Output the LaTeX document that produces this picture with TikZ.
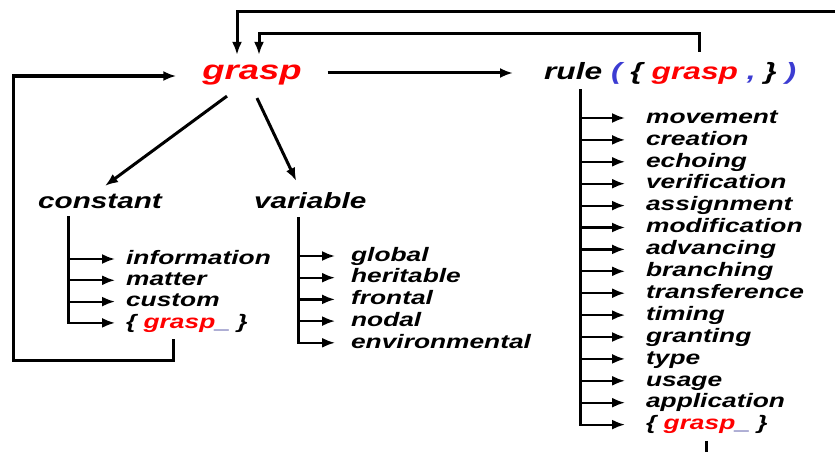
\documentclass[tikz,border=0pt]{standalone}
\usepackage{fontspec}
\newfontfamily\gfont{Liberation Sans}[FakeStretch=1.35]
\usetikzlibrary{arrows.meta}

\definecolor{gred}{RGB}{255,0,0}
\definecolor{gblue}{RGB}{60,60,210}
\definecolor{gnavy}{RGB}{40,40,140}

\newcommand{\gsub}{\{ \textcolor{gred}{grasp}\textcolor{gnavy}{\_} \}}

\begin{document}
\begin{tikzpicture}[x=1pt,y=-1pt,line width=2.2pt,
    arr/.style={-{Latex[length=13pt,width=10pt]}},
    item/.style={font=\gfont\bfseries\itshape\fontsize{19.5}{20}\selectfont,anchor=west,inner sep=0pt,text height=10.5pt,text depth=0pt},
    head/.style={font=\gfont\bfseries\itshape\fontsize{22}{24}\selectfont,anchor=base west,inner xsep=0pt,inner ysep=6pt,text height=15pt,text depth=0pt},
    trunk/.style={line width=3pt,line cap=rect},
    loopline/.style={line width=3pt}]

  \useasboundingbox (0,0) rectangle (835,452);

  \node[head,font=\gfont\bfseries\itshape\fontsize{27}{30}\selectfont,text=gred,anchor=base,
        inner xsep=25pt,inner ysep=10pt,text height=14pt] (g) at (252,80) {grasp};
  \node[head,font=\gfont\bfseries\itshape\fontsize{23.5}{26}\selectfont,
        inner xsep=30pt,inner ysep=15pt,text height=12pt] (rul) at (513,80)
        {rule \textcolor{gblue}{(} \{ \textcolor{gred}{grasp} \textcolor{gblue}{,} \} \textcolor{gblue}{)}};
  \node[head] (cst) at (37,208) {constant};
  \node[head] (var) at (253,208) {variable};

  \coordinate (outR) at (835,12);
  \coordinate (outB) at (703,452);
  \coordinate (lc) at (13,360);

  % main arrows
  \draw[loopline,arr] (g.east) -- (g.east -| rul.west);
  \draw[loopline,arr] ([xshift=-25pt,yshift=-5pt]g.south) -- ([xshift=5pt]cst.north);
  \draw[loopline,arr] ([xshift=5pt,yshift=-7pt]g.south) -- ([xshift=-14pt,yshift=5pt]var.north);

  % constant
  \coordinate (ctop) at (68,217);
  \foreach \t [count=\i] in {information,matter,custom,\gsub}
    \node[item] (c\i) at (125,{259+21.3*(\i-1)}) {\t};
  \foreach \i in {1,...,4}
    \draw[arr] (c\i.west -| ctop) -- ([xshift=-10pt]c\i.west);
  \draw[trunk] (ctop) -- (ctop |- c4.west);

  % variable
  \coordinate (vtop) at (298,218);
  \foreach \t [count=\i] in {global,heritable,frontal,nodal,environmental}
    \node[item] (v\i) at (350,{256+21.7*(\i-1)}) {\t};
  \foreach \i in {1,...,5}
    \draw[arr] (v\i.west -| vtop) -- ([xshift=-15pt]v\i.west);
  \draw[trunk] (vtop) -- (vtop |- v5.west);

  % rule
  \coordinate (rtop) at (580,90);
  \foreach \t [count=\i] in {movement,creation,echoing,verification,assignment,modification,advancing,
      branching,transference,timing,granting,type,usage,application,\gsub}
    \node[item] (r\i) at (645,{118+21.9*(\i-1)}) {\t};
  \foreach \i in {1,...,15}
    \draw[arr] (r\i.west -| rtop) -- ([xshift=-20pt]r\i.west);
  \draw[trunk] (rtop) -- (rtop |- r15.west);

  % loops back to grasp
  \draw[loopline,arr] ([xshift=48pt,yshift=-10pt]c4.south west) |- (lc) |- ([yshift=-3pt]g.west);
  \draw[loopline,arr] (outR) -| ([xshift=-15pt]g.north);
  \draw[loopline,arr] ([xshift=29pt]rul.north) -- ++(0,-18) -| ([xshift=7pt]g.north);
  \draw[loopline] ([yshift=-10pt]r15.south) -- (r15.south |- outB);

\end{tikzpicture}
\end{document}
